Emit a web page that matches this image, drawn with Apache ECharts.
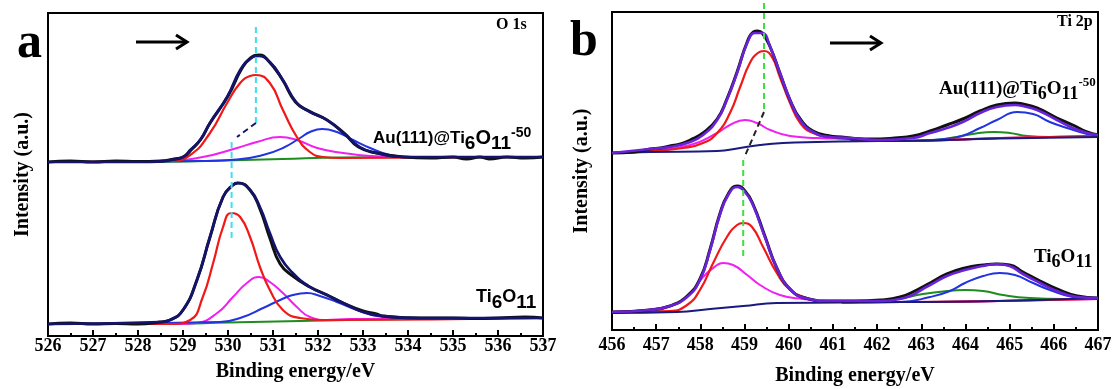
<!DOCTYPE html>
<html><head><meta charset="utf-8">
<script src="https://cdn.jsdelivr.net/npm/echarts@6/dist/echarts.min.js"></script>
<style>html,body{margin:0;padding:0;background:#fff;}#c{width:1116px;height:389px;}</style>
</head><body><div id="c"></div>
<script>
// ---------- Panel a : O 1s (x = binding energy eV, y = intensity a.u.) ----------
const aTicks = [526,527,528,529,530,531,532,533,534,535,536,537];
// upper spectrum: Au(111)@Ti6O11-50
const aTopData = [[526,174],[526.5,175],[527,174],[527.5,175],[528,174.5],[528.5,175],[528.8,177],[529.0,179],[529.2,187],[529.4,197],[529.6,213],[530.0,240],[530.3,267],[530.5,278],[530.7,281],[530.9,275],[531.2,257],[531.5,234],[531.8,225],[532.2,216],[532.6,202],[532.9,189],[533.3,183],[533.9,179],[534.5,178],[535,179],[535.3,177],[535.6,179],[535.8,177],[536.2,179],[536.6,178],[537,179]];
const aTopFit  = [[526,174],[528.27,174],[528.71,176],[529.0,179],[529.16,186],[529.38,196],[529.6,213],[529.98,239],[530.27,266],[530.49,277],[530.67,280],[530.93,274],[531.22,256],[531.53,233],[531.82,224],[532.2,216],[532.56,203],[532.93,189],[533.3,183],[533.9,179],[537,179]];
const aTopRed  = [[526,174],[528.7,175],[529.16,181],[529.6,203],[529.98,233],[530.27,253],[530.49,260],[530.62,261],[530.93,253],[531.22,226],[531.53,199],[531.82,184],[532.11,179],[532.5,178],[537,179]];
const aTopMag  = [[526,174],[528.7,175],[529.44,179],[530.2,188],[530.64,194],[531.16,199],[531.53,196],[531.98,188],[532.56,183],[533.16,180],[533.9,179],[537,179]];
const aTopBlue = [[526,174],[529.38,175],[530.2,176.5],[530.78,181],[531.22,188],[531.6,198],[531.82,204],[532.09,207],[532.42,204],[532.78,196],[533.16,188],[533.6,181],[534.04,179],[537,179]];
const aTopBg   = [[526,174],[528.3,174],[529.5,175],[531.2,177],[532.5,178.5],[534,179],[537,179]];
// lower spectrum: Ti6O11
const aBotData = [[526,12],[526.5,13],[527,12],[527.5,12.5],[528,12],[528.49,14],[528.71,16],[529.0,26],[529.31,56],[529.6,99],[529.89,139],[530.11,151],[530.22,153],[530.49,146],[530.71,127],[530.93,98],[531.16,72],[531.44,60],[531.82,49],[532.2,41],[532.56,33],[533.0,25],[533.3,22],[533.44,20],[534.27,18],[535,18],[535.5,17.5],[536,18],[536.6,19],[537,18]];
const aBotFit  = [[526,12],[528.49,14],[528.71,16],[529.0,26],[529.31,56],[529.6,99],[529.89,139],[530.11,151],[530.22,153],[530.49,146],[530.71,129],[530.93,103],[531.16,79],[531.44,63],[531.82,49],[532.2,41],[532.56,33],[533.0,24],[533.44,20],[534.27,18],[537,18]];
const aBotRed  = [[526,12],[528.71,12],[529.16,16],[529.44,39],[529.67,73],[529.89,109],[530.07,123],[530.27,119],[530.49,99],[530.71,69],[530.93,46],[531.22,26],[531.6,18],[532.11,16],[537,18]];
const aBotMag  = [[526,12],[528.93,12],[529.31,13],[529.76,23],[530.11,39],[530.42,53],[530.69,59],[530.93,54],[531.22,43],[531.53,29],[531.82,19],[532.2,16],[532.71,17],[537,18]];
const aBotBlue = [[526,12],[529.82,14],[530.33,19],[530.78,28],[531.16,36],[531.44,41],[531.76,43],[532.04,40],[532.42,34],[532.87,26],[533.31,20],[533.89,18],[537,18]];
const aBotBg   = [[526,12],[528.7,12],[530,13.5],[531.6,15],[534.2,17],[537,18]];
// guide lines (peak shift)
const aGuideTop = [[530.62,309],[530.62,213]];
const aGuideMid = [[530.62,213],[530.2,199]];
const aGuideBot = [[530.08,194],[530.08,96]];

// ---------- Panel b : Ti 2p ----------
const bTicks = [456,457,458,459,460,461,462,463,464,465,466,467];
const bTopData = [[456,177],[456.5,178],[456.86,181],[457.1,182],[457.31,184],[457.55,186],[457.77,190],[458.06,197],[458.38,211],[458.6,231],[458.83,258],[459.06,288],[459.2,298],[459.3,299],[459.4,297],[459.58,283],[459.8,257],[460.03,230],[460.26,211],[460.55,199],[460.93,194],[461.2,193],[461.39,192],[461.7,191],[462.07,191],[462.4,192],[462.81,194],[463.2,199],[463.58,205],[463.94,211],[464.33,219],[464.71,225],[465.12,227],[465.3,226],[465.62,222],[466.07,212],[466.43,205],[466.75,198],[467,195]];
const bTopFit  = [[456,177],[456.86,181],[457.31,183],[457.77,188],[458.06,195],[458.38,210],[458.6,230],[458.83,257],[459.06,287],[459.24,297],[459.4,297],[459.58,283],[459.8,257],[460.03,230],[460.26,210],[460.55,198],[460.93,193],[461.39,192],[462.07,190],[462.81,192],[463.2,197],[463.58,202],[463.94,208],[464.33,217],[464.71,223],[465.12,225],[465.3,224],[465.62,220],[466.07,210],[466.43,202],[466.75,197],[467,195]];
const bTopRed  = [[456,177],[456.86,179],[457.61,182],[458.06,187],[458.38,197],[458.67,217],[458.9,243],[459.12,267],[459.3,277],[459.44,279],[459.62,273],[459.8,253],[460.03,227],[460.26,207],[460.55,197],[460.93,193],[461.39,191],[462.52,189],[464.78,192],[467,194]];
const bTopMag  = [[456,177],[456.86,179],[457.77,185],[458.38,197],[458.67,205],[459.01,210],[459.28,207],[459.58,200],[460.03,194],[460.64,192],[461.39,191],[462.52,189],[464.78,192],[467,194]];
const bTopBlue = [[461.4,189],[462.52,189],[463.54,191],[463.92,194],[464.33,202],[464.71,210],[465.17,218],[465.53,216],[465.91,208],[466.3,202],[466.75,196],[467,194]];
const bTopGreen= [[461.4,189],[462.52,189],[463.3,190],[463.8,193],[464.3,197],[464.65,198],[465.0,197],[465.4,194],[465.9,193],[467,194]];
const bTopBg   = [[456,177],[456.86,178],[458.38,179],[458.9,182],[459.35,185],[459.87,187],[460.64,188],[462.07,189],[462.52,189],[464.78,191.5],[467,193]];
const bBotData = [[456,18],[456.86,20],[457.31,24],[457.7,34],[457.99,51],[458.22,81],[458.44,116],[458.63,136],[458.83,144],[459.01,139],[459.19,126],[459.46,94],[459.73,62],[460.03,41],[460.37,32],[460.93,29],[461.5,29],[462.07,30],[462.52,33],[462.9,40],[463.2,47],[463.58,56],[463.99,62],[464.4,65],[464.71,66],[465.0,65],[465.3,58],[465.69,49],[466.07,41],[466.53,34],[467,32]];
const bBotFit  = [[456,18],[456.86,20],[457.31,24],[457.7,33],[457.99,50],[458.22,80],[458.44,115],[458.63,135],[458.83,143],[459.01,138],[459.19,125],[459.46,93],[459.73,62],[460.03,41],[460.37,32],[460.93,29],[462.07,29],[462.52,31],[463.2,45],[463.58,54],[463.99,60],[464.4,64],[464.71,66],[465.0,64],[465.3,56],[465.69,47],[466.07,39],[466.53,33],[467,32]];
const bBotRed  = [[456,18],[457.31,19],[457.7,25],[457.99,40],[458.29,67],[458.6,93],[458.83,105],[458.97,107],[459.17,103],[459.42,83],[459.73,57],[460.03,40],[460.41,32],[460.87,28],[462.52,28],[464.78,29],[467,31]];
const bBotMag  = [[456,18],[457.09,22],[457.7,33],[458.06,53],[458.38,65],[458.51,67],[458.74,65],[459.06,55],[459.35,45],[459.8,35],[460.32,31],[461.16,28],[462.52,28],[464.78,29],[467,31]];
const bBotBlue = [[461.2,27.5],[462.52,28],[463.2,33],[463.65,39],[463.99,47],[464.4,54],[464.78,57],[465.12,55],[465.53,47],[465.91,40],[466.43,33],[467,31]];
const bBotGreen= [[461.2,27.5],[461.61,28],[462.45,31],[463.04,36],[463.58,39],[463.99,40],[464.4,39],[464.85,35],[465.46,32],[466.2,31],[467,31]];
const bBotBg   = [[456,17],[457.47,18],[458.22,21],[458.97,24],[459.73,27],[461.16,27.5],[464.71,29],[467,32]];
const bGuideTop = [[459.44,327],[459.44,220]];
const bGuideMid = [[459.44,218],[458.99,172]];
const bGuideBot = [[458.97,170],[458.97,70]];

// ---------- build chart ----------
const SERIF = 'Liberation Serif, Times New Roman, serif';
const SANS = 'Liberation Sans, Arial, sans-serif';
const C = {navy:'#14146e', red:'#f01818', mag:'#f020f0', blue:'#2233e0', green:'#1e8c1e', purple:'#6a22d8', black:'#111', cyan:'#3ee0ee', lime:'#3ede3e', base:'#1a1a80'};

function ln(data, gi, color, width, z, extra) {
  return Object.assign({type:'line', xAxisIndex:gi, yAxisIndex:gi, data:data, symbol:'none',
    smooth:0.5, lineStyle:{color:color, width:width}, z:z, silent:true, animation:false}, extra||{});
}
function dash(data, gi, color, extra) {
  return Object.assign({type:'line', xAxisIndex:gi, yAxisIndex:gi, data:data, symbol:'none', clip:false,
    lineStyle:{color:color, width:2, type:[6,4]}, z:10, silent:true, animation:false}, extra||{});
}
function xAx(gi, lo, hi, ticks) {
  return {type:'value', gridIndex:gi, min:lo, max:hi, interval:1, position:'bottom',
    axisLine:{show:true, onZero:false, lineStyle:{color:'#000', width:2}},
    axisTick:{show:true, inside:true, length:6, lineStyle:{color:'#000', width:2}},
    minorTick:{show:true, splitNumber:2, length:3, lineStyle:{color:'#000', width:2}},
    splitLine:{show:false}, minorSplitLine:{show:false},
    axisLabel:{show:true, margin:gi===0?1:6, color:'#000', fontFamily:SERIF, fontWeight:'bold', fontSize:18,
      formatter:function(v){return ticks.indexOf(v)>=0 ? String(v) : '';}},
    name:'Binding energy/eV', nameLocation:'middle', nameGap:gi===0?26:36,
    nameTextStyle:{color:'#000', fontFamily:SERIF, fontWeight:'bold', fontSize:20}};
}
function yAx(gi, hi, gap) {
  return {type:'value', gridIndex:gi, min:0, max:hi, show:true,
    axisLine:{show:false}, axisTick:{show:false}, axisLabel:{show:false}, splitLine:{show:false},
    name:'Intensity (a.u.)', nameLocation:'middle', nameGap:gap, nameRotate:90,
    nameTextStyle:{color:'#000', fontFamily:SERIF, fontWeight:'bold', fontSize:20}};
}

const richSans = {
  n:{fontFamily:SANS, fontWeight:'bold', fontSize:17, height:17, verticalAlign:'top', color:'#000'},
  o:{fontFamily:SANS, fontWeight:'bold', fontSize:20, height:17, verticalAlign:'top', color:'#000'},
  t:{fontFamily:SANS, fontWeight:'bold', fontSize:18, height:17, verticalAlign:'top', color:'#000'},
  s:{fontFamily:SANS, fontWeight:'bold', fontSize:19, height:28, verticalAlign:'top', color:'#000'},
  p:{fontFamily:SANS, fontWeight:'bold', fontSize:14, height:6, verticalAlign:'top', color:'#000'}
};
const richSerif = {
  n:{fontFamily:SERIF, fontWeight:'bold', fontSize:19, height:18, verticalAlign:'top', color:'#000'},
  s:{fontFamily:SERIF, fontWeight:'bold', fontSize:18, height:28, verticalAlign:'top', color:'#000'},
  p:{fontFamily:SERIF, fontWeight:'bold', fontSize:13, height:6, verticalAlign:'top', color:'#000'}
};

const chart = echarts.init(document.getElementById('c'), null, {renderer:'canvas'});
chart.setOption({
  backgroundColor:'#fff',
  animation:false,
  grid:[
    {left:48, top:13, width:495, height:323, show:true, borderColor:'#000', borderWidth:2, backgroundColor:'rgba(0,0,0,0)', containLabel:false, outerBoundsMode:'none'},
    {left:612, top:12, width:486, height:318, show:true, borderColor:'#000', borderWidth:2, backgroundColor:'rgba(0,0,0,0)', containLabel:false, outerBoundsMode:'none'}
  ],
  xAxis:[xAx(0,526,537,aTicks), xAx(1,456,467,bTicks)],
  yAxis:[yAx(0,323,15), yAx(1,318,20)],
  series:[
    ln(aTopBg,0,C.green,2,2), ln(aTopMag,0,C.mag,2,3), ln(aTopBlue,0,C.blue,2,3), ln(aTopRed,0,C.red,2.2,4),
    ln(aTopData,0,C.black,3,5), ln(aTopFit,0,C.navy,2.6,6),
    ln(aBotBg,0,C.green,2,2), ln(aBotMag,0,C.mag,2,3), ln(aBotBlue,0,C.blue,2,3), ln(aBotRed,0,C.red,2.2,4),
    ln(aBotData,0,C.black,3,5), ln(aBotFit,0,C.navy,2.6,6),
    dash(aGuideTop,0,C.cyan), dash(aGuideMid,0,C.navy), dash(aGuideBot,0,C.cyan),
    ln(bTopGreen,1,C.green,2,2), ln(bTopBlue,1,C.blue,2,3), ln(bTopMag,1,C.mag,2,3), ln(bTopRed,1,C.red,2.2,4), ln(bTopBg,1,C.base,2,4),
    ln(bTopData,1,C.black,3,5), ln(bTopFit,1,C.purple,2.6,6),
    ln(bBotGreen,1,C.green,2,2), ln(bBotBlue,1,C.blue,2,3), ln(bBotMag,1,C.mag,2,3), ln(bBotRed,1,C.red,2.2,4), ln(bBotBg,1,C.base,2,4),
    ln(bBotData,1,C.black,3,5), ln(bBotFit,1,C.purple,2.6,6),
    dash(bGuideTop,1,C.lime), dash(bGuideMid,1,'#222'), dash(bGuideBot,1,C.lime)
  ],
  graphic:[
    {type:'text', x:17, y:44, style:{text:'a', font:'bold 50px '+SERIF, fill:'#000', verticalAlign:'middle'}},
    {type:'text', x:570, y:42, style:{text:'b', font:'bold 50px '+SERIF, fill:'#000', verticalAlign:'middle'}},
    {type:'text', x:496, y:25, style:{text:'O 1s', font:'bold 16px '+SERIF, fill:'#000', verticalAlign:'middle'}},
    {type:'text', x:1057, y:22, style:{text:'Ti 2p', font:'bold 16px '+SERIF, fill:'#000', verticalAlign:'middle'}},
    {type:'text', x:373, y:130, style:{text:'{n|Au(111)@Ti}{s|6}{o|O}{s|11}{p|-50}', rich:richSans, verticalAlign:'top'}},
    {type:'text', x:476, y:289, style:{text:'{t|Ti}{s|6}{t|O}{s|11}', rich:richSans, verticalAlign:'top'}},
    {type:'text', x:939, y:80, style:{text:'{n|Au(111)@Ti}{s|6}{n|O}{s|11}{p|-50}', rich:richSerif, verticalAlign:'top'}},
    {type:'text', x:1034, y:248, style:{text:'{n|Ti}{s|6}{n|O}{s|11}', rich:richSerif, verticalAlign:'top'}},
    {type:'polyline', shape:{points:[[136,42],[187,42]]}, style:{stroke:'#000', lineWidth:3, fill:null}},
    {type:'polyline', shape:{points:[[176,35],[187,42],[176,49]]}, style:{stroke:'#000', lineWidth:3, fill:null}},
    {type:'polyline', shape:{points:[[830,43],[881,43]]}, style:{stroke:'#000', lineWidth:3, fill:null}},
    {type:'polyline', shape:{points:[[870,36],[881,43],[870,50]]}, style:{stroke:'#000', lineWidth:3, fill:null}}
  ]
});
</script></body></html>
